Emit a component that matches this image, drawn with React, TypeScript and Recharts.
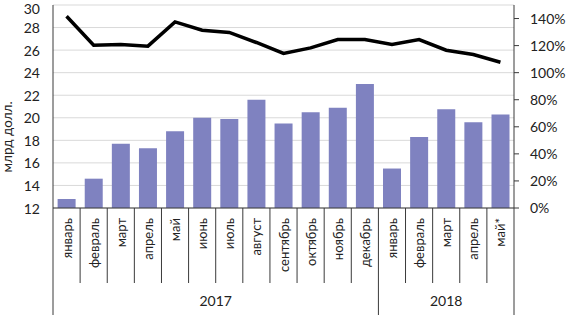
import React from 'react';
import { ComposedChart, Bar, Line, XAxis, YAxis, CartesianGrid } from 'recharts';

const months = ['январь', 'февраль', 'март', 'апрель', 'май', 'июнь', 'июль', 'август', 'сентябрь', 'октябрь', 'ноябрь', 'декабрь', 'январь', 'февраль', 'март', 'апрель', 'май*'];
const years = ['2017', '2017', '2017', '2017', '2017', '2017', '2017', '2017', '2017', '2017', '2017', '2017', '2018', '2018', '2018', '2018', '2018'];
const exportsBn = [12.8, 14.6, 17.7, 17.3, 18.8, 20.0, 19.9, 21.6, 19.5, 20.5, 20.9, 23.0, 15.5, 18.3, 20.75, 19.6, 20.3];
const ratioPct = [141.7, 120.3, 120.8, 119.6, 137.5, 131.4, 129.7, 122.3, 114.2, 118.3, 124.5, 124.5, 120.8, 124.5, 116.6, 113.4, 107.7];
const leftTicks = [12, 14, 16, 18, 20, 22, 24, 26, 28, 30];
const rightTicks = [0, 20, 40, 60, 80, 100, 120, 140];

const data = months.map((m, i) => ({ key: `${years[i]}-${i}`, month: m, year: years[i], value: exportsBn[i], ratio: ratioPct[i] }));

const FONT = 'Lato, "Open Sans", sans-serif';
const AXIS = '#3a3a3a';

function MonthTick(props: any) {
  const { x, y, payload, index, width, height, visibleTicksCount } = props;
  const half = payload && payload.offset ? payload.offset : width / visibleTicksCount / 2;
  const axisH = height || 107;
  const yr = years[index];
  const isYearEnd = index === years.length - 1 || years[index + 1] !== yr;
  const isYearStart = index === 0 || years[index - 1] !== yr;
  const n = years.filter((v) => v === yr).length;
  const bottom = y + axisH;
  return (
    <g>
      <text
        x={x}
        y={y + 10}
        transform={`rotate(-90 ${x} ${y + 10})`}
        textAnchor="end"
        dominantBaseline="central"
        fontSize={13}
        fontFamily={FONT}
        fill="#222"
      >
        {months[index]}
      </text>
      {index === 0 && <line x1={x - half} x2={x - half} y1={y} y2={bottom} stroke={AXIS} strokeWidth={1} />}
      <line x1={x + half} x2={x + half} y1={y} y2={isYearEnd ? bottom : y + 75} stroke={AXIS} strokeWidth={1} />
      {isYearStart && (
        <text x={x - half + n * half} y={y + 98} textAnchor="middle" fontSize={14} fontFamily={FONT} fill="#222">
          {yr}
        </text>
      )}
    </g>
  );
}

function LeftTick(props: any) {
  const { x, y, payload } = props;
  const ty = Math.max(y, 8);
  return (
    <text x={x} y={ty} textAnchor="end" dominantBaseline="central" fontSize={14} fontFamily={FONT} fill="#222">
      {payload.value}
    </text>
  );
}

function AxisTitle(props: any) {
  const vb = props.viewBox || { x: 0, y: 5, width: 53, height: 203 };
  const cx = vb.x + 7;
  const cy = vb.y + vb.height * 0.65;
  return (
    <text x={cx} y={cy} transform={`rotate(-90 ${cx} ${cy})`} textAnchor="middle" dominantBaseline="central" fontSize={13.5} fontFamily={FONT} fill="#222">
      млрд долл.
    </text>
  );
}

export default function App() {
  return (
    <div style={{ position: 'absolute', left: 0, top: 0, background: '#fff' }}>
      <ComposedChart width={566} height={315} data={data} margin={{ top: 5, right: 0, bottom: 0, left: 0 }} barCategoryGap="17%">
        <CartesianGrid vertical={false} stroke="#d9d9d9" yAxisId="left" />
        <XAxis
          dataKey="key"
          interval={0}
          height={107}
          tickSize={0}
          tickMargin={0}
          tickLine={false}
          axisLine={{ stroke: AXIS }}
          tick={<MonthTick />}
        />
        <YAxis
          yAxisId="left"
          domain={[12, 30]}
          ticks={leftTicks}
          interval={0}
          width={53}
          tickSize={0}
          tickMargin={13}
          tickLine={false}
          axisLine={{ stroke: AXIS }}
          tick={<LeftTick />}
          label={<AxisTitle />}
        />
        <YAxis
          yAxisId="right"
          orientation="right"
          domain={[0, 150]}
          ticks={rightTicks}
          interval={0}
          width={52}
          tickSize={5}
          tickMargin={11}
          axisLine={{ stroke: AXIS }}
          tickLine={{ stroke: AXIS }}
          tickFormatter={(v: number) => `${v}%`}
          tick={{ fontSize: 14, fontFamily: FONT, fill: '#222', textAnchor: 'start' }}
        />
        <Bar yAxisId="left" dataKey="value" fill="#7F82C0" isAnimationActive={false} />
        <Line yAxisId="right" dataKey="ratio" stroke="#000" strokeWidth={3.5} dot={false} type="linear" isAnimationActive={false} />
      </ComposedChart>
    </div>
  );
}
